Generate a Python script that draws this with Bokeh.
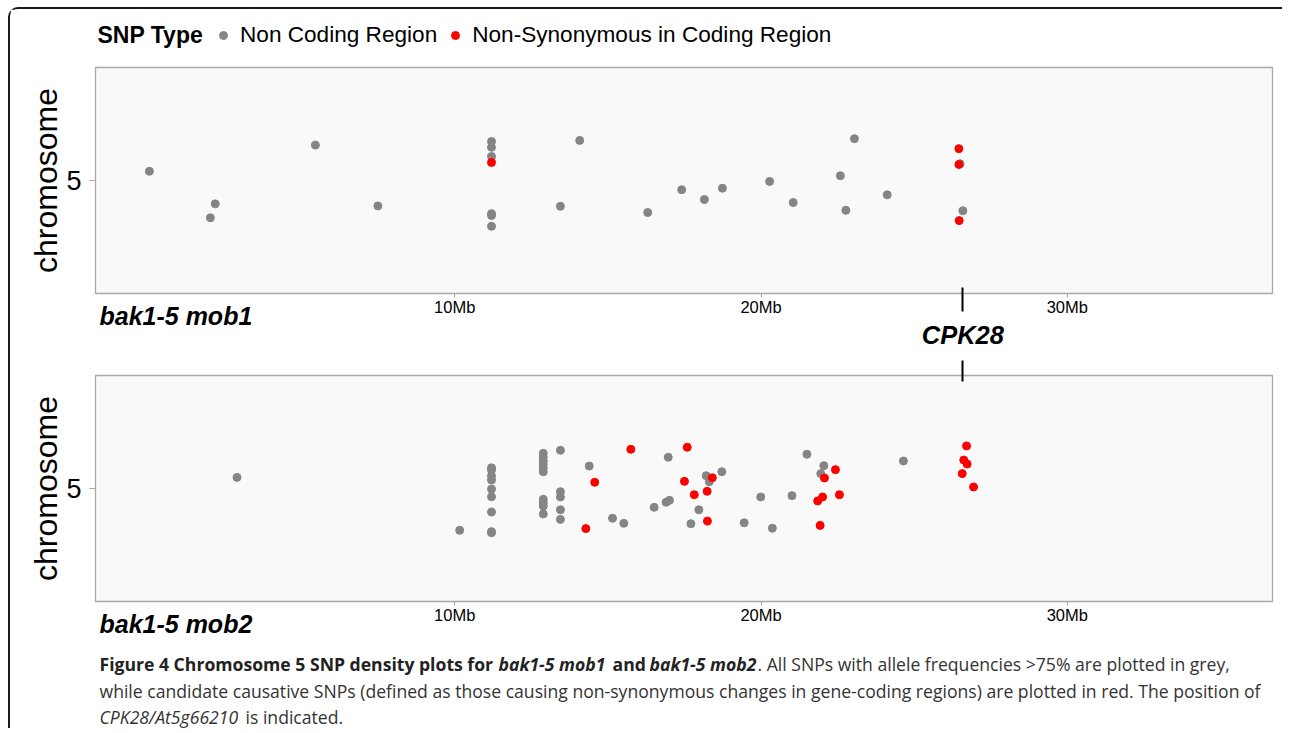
from bokeh.plotting import figure
from bokeh.models import (Range1d, FixedTicker, PrintfTickFormatter, Label,
                          Legend, LegendItem, LinearAxis)
from bokeh.layouts import column
from bokeh.embed import file_html
from bokeh.resources import INLINE

# ---------------- data ----------------
chromosome = 5
cpk28_mb = 26.59
x_ticks_mb = [10, 20, 30]
legend_title = "SNP Type"
type_labels = ["Non Coding Region", "Non-Synonymous in Coding Region"]
sample_names = ["bak1-5 mob1", "bak1-5 mob2"]
sample_label_mb = 0.895          # x centre of the sample name under each panel
gene_label = "CPK28"

mob1_noncoding_mb = [0.03, 2.18, 2.02, 5.45, 7.49, 11.20, 11.20, 11.20, 11.20, 11.20,
                     11.20, 13.45, 14.08, 16.30, 17.41, 18.15, 18.74, 20.28, 21.05,
                     22.59, 22.77, 23.05, 24.12, 26.50, 26.59]
mob1_noncoding_jitter = [0.049, -0.124, -0.198, 0.188, -0.135, 0.207, 0.176, 0.128,
                         -0.176, -0.186, -0.243, -0.137, 0.213, -0.170, -0.049, -0.101,
                         -0.041, -0.005, -0.117, 0.025, -0.158, 0.222, -0.076, 0.089,
                         -0.161]
mob1_nonsyn_mb = [11.20, 26.46, 26.46, 26.47]
mob1_nonsyn_jitter = [0.096, 0.169, 0.085, -0.213]

mob2_noncoding_mb = [2.89, 10.16,
                     11.20, 11.20, 11.20, 11.20, 11.20, 11.20, 11.20, 11.20, 11.20,
                     12.89, 12.89, 12.89, 12.89, 12.89, 12.89, 12.89, 12.89, 12.89, 12.89,
                     13.45, 13.45, 13.45, 13.45, 13.45,
                     14.39, 15.15, 15.52, 16.51, 16.97, 16.90, 17.01, 17.71, 17.97,
                     18.21, 18.31, 18.72, 19.45, 19.99, 20.37, 21.01, 21.50, 22.05,
                     21.95, 24.65]
mob2_noncoding_jitter = [0.059, -0.222,
                         0.110, 0.098, 0.066, 0.045, -0.003, -0.044, -0.125, -0.229, -0.235,
                         0.187, 0.166, 0.146, 0.129, 0.109, 0.089, -0.057, -0.075, -0.093, -0.135,
                         0.203, -0.017, -0.045, -0.113, -0.164,
                         0.119, -0.158, -0.185, -0.100, 0.166, -0.073, -0.063, -0.187, -0.113,
                         0.068, 0.036, 0.089, -0.182, -0.045, -0.211, -0.038, 0.182, 0.121,
                         0.079, 0.146]
mob2_nonsyn_mb = [14.57, 14.28, 15.75, 17.59, 17.50, 17.82, 18.41, 18.24, 18.25,
                  22.07, 22.43, 22.01, 21.85, 22.56, 21.93,
                  26.71, 26.62, 26.73, 26.57, 26.94]
mob2_nonsyn_jitter = [0.033, -0.213, 0.208, 0.219, 0.038, -0.033, 0.057, -0.015, -0.173,
                      0.056, 0.100, -0.045, -0.066, -0.033, -0.196,
                      0.226, 0.151, 0.130, 0.079, 0.008]

# caption segments: (text, style, left edge in page pixels)
caption_line1 = [("Figure 4 Chromosome 5 SNP density plots for", "bold", 99),
                 ("bak1-5 mob1", "bold italic", 498),
                 ("and", "bold", 612),
                 ("bak1-5 mob2", "bold italic", 649),
                 (". All SNPs with allele frequencies >75% are plotted in grey,", "normal", 757)]
caption_line2 = [("while candidate causative SNPs (defined as those causing non-synonymous "
                  "changes in gene-coding regions) are plotted in red. The position of", "normal", 99)]
caption_line3 = [("CPK28/At5g66210", "italic", 99), ("is indicated.", "normal", 245)]

# ---------------- style ----------------
GREY = "#858585"
RED = "#ff0000"
FONT = "Liberation Sans"
W = 1272
LEFT = 85
FRAME_W = W - LEFT - 10
FRAME_H = 226
FRAME_X0 = 95            # page x of the frames' left edge
X_RANGE = (-1.73, 36.70)


def marker_axis(tick_in, tick_out):
    return LinearAxis(ticker=FixedTicker(ticks=[cpk28_mb]), axis_line_color=None,
                      major_tick_line_color="black", major_tick_line_width=2,
                      major_tick_in=tick_in, major_tick_out=tick_out,
                      minor_tick_in=0, minor_tick_out=0, minor_tick_line_color=None,
                      major_label_text_font_size="1px", major_label_text_color=None,
                      major_label_standoff=0)


def name_axis(name):
    # sample name shown as the single tick label of an extra (tickless) axis
    return LinearAxis(ticker=FixedTicker(ticks=[sample_label_mb]),
                      major_label_overrides={sample_label_mb: name},
                      axis_line_color=None, major_tick_line_color=None,
                      major_tick_in=0, major_tick_out=0,
                      minor_tick_in=0, minor_tick_out=0, minor_tick_line_color=None,
                      major_label_standoff=-17, major_label_text_font=FONT,
                      major_label_text_font_style="bold italic",
                      major_label_text_font_size="25px", major_label_text_color="black")


def panel(nc_x, nc_j, ns_x, ns_j, name, top, bottom, with_gene_label):
    p = figure(frame_width=FRAME_W, frame_height=FRAME_H,
               min_border_left=LEFT, min_border_right=10,
               min_border_top=top, min_border_bottom=bottom,
               x_range=Range1d(*X_RANGE), y_range=Range1d(chromosome - 0.6, chromosome + 0.6),
               output_backend="svg", toolbar_location=None,
               background_fill_color="#f9f9f9", border_fill_color="white",
               outline_line_color="#a8a8a8", outline_line_width=1.3)
    p.grid.visible = False

    xa = p.xaxis[0]
    xa.ticker = FixedTicker(ticks=x_ticks_mb)
    xa.formatter = PrintfTickFormatter(format="%dMb")
    xa.axis_line_color = None
    xa.major_tick_line_color = "#a8a8a8"
    xa.major_tick_in = 0
    xa.major_tick_out = 4
    xa.minor_tick_line_color = None
    xa.minor_tick_in = 0
    xa.minor_tick_out = 0
    xa.major_label_standoff = 0
    xa.major_label_text_font = FONT
    xa.major_label_text_font_size = "16.5px"
    xa.major_label_text_color = "black"

    ya = p.yaxis[0]
    ya.ticker = FixedTicker(ticks=[chromosome])
    ya.axis_line_color = None
    ya.major_tick_line_color = "#a8a8a8"
    ya.major_tick_in = 0
    ya.major_tick_out = 6
    ya.minor_tick_line_color = None
    ya.minor_tick_in = 0
    ya.minor_tick_out = 0
    ya.major_label_standoff = 8
    ya.major_label_text_font = FONT
    ya.major_label_text_font_size = "27px"
    ya.major_label_text_color = "black"
    ya.axis_label = "chromosome"
    ya.axis_label_text_font = FONT
    ya.axis_label_text_font_style = "normal"
    ya.axis_label_text_font_size = "32px"
    ya.axis_label_text_color = "black"
    ya.axis_label_standoff = -1

    p.scatter(nc_x, [chromosome + j for j in nc_j], size=8, color=GREY)
    p.scatter(ns_x, [chromosome + j for j in ns_j], size=8, color=RED)

    p.add_layout(name_axis(name), "below")
    b_line = 38   # estimated offset of the next stacked axis below the frame

    if with_gene_label:
        # CPK28 position marker crossing the panel bottom, then the gene name
        p.add_layout(marker_axis(b_line + 7, 17 - b_line), "below")
        p.add_layout(Label(x=cpk28_mb, y=chromosome - 0.822, x_units="data", y_units="data",
                           text=gene_label, text_font=FONT, text_font_style="bold italic",
                           text_font_size="25.5px", text_align="center",
                           text_baseline="middle", text_color="black"), "below")
    else:
        p.add_layout(marker_axis(6, 15), "above")
    return p


def blank(height):
    f = figure(width=W, height=height, x_range=Range1d(0, 1), y_range=Range1d(0, 1),
               x_axis_type=None, y_axis_type=None, min_border=0,
               outline_line_color=None, toolbar_location=None, output_backend="svg")
    f.grid.visible = False
    return f


# header with legend
ph = blank(49)
nan = float("nan")
r_grey = ph.scatter(x=[nan], y=[nan], size=8, color=GREY)
r_red = ph.scatter(x=[nan], y=[nan], size=8, color=RED)
legend = Legend(items=[LegendItem(label=type_labels[0], renderers=[r_grey]),
                       LegendItem(label=type_labels[1], renderers=[r_red])],
                orientation="horizontal", location=(213 - FRAME_X0, 10),
                glyph_width=20, glyph_height=20, label_standoff=7, spacing=8,
                padding=0, margin=0, border_line_color=None, background_fill_alpha=0,
                label_text_font=FONT, label_text_font_size="22.6px",
                label_text_color="black")
ph.add_layout(legend)
ph.add_layout(Label(x=97 - FRAME_X0, y=24, x_units="screen", y_units="screen",
                    text=legend_title, text_font=FONT, text_font_style="bold",
                    text_font_size="23px", text_baseline="middle", text_color="black"))

p1 = panel(mob1_noncoding_mb, mob1_noncoding_jitter, mob1_nonsyn_mb, mob1_nonsyn_jitter,
           sample_names[0], 9, 66, True)
p2 = panel(mob2_noncoding_mb, mob2_noncoding_jitter, mob2_nonsyn_mb, mob2_nonsyn_jitter,
           sample_names[1], 15, 38, False)

# caption
pc = blank(88)
for line, ypos in ((caption_line1, 65), (caption_line2, 38), (caption_line3, 12)):
    for txt, style, xpix in line:
        pc.add_layout(Label(x=xpix - FRAME_X0, y=ypos, x_units="screen", y_units="screen",
                            text=txt, text_font="Open Sans", text_font_style=style,
                            text_font_size="17.6px", text_baseline="middle",
                            text_color="#222222" if "bold" in style else "#333333"))

layout = column(ph, p1, p2, pc,
                styles={"margin-left": "8px", "margin-top": "7px",
                        "border-top": "2px solid #1a1a1a", "border-left": "2px solid #1a1a1a",
                        "border-top-left-radius": "10px"})

open("out.html", "w").write(file_html(layout, INLINE))
